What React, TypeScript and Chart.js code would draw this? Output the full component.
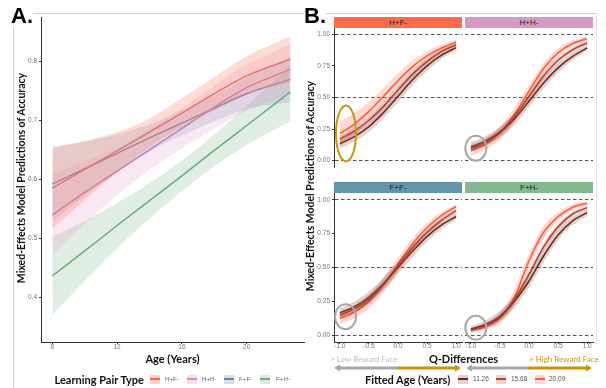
import React, { useEffect, useRef } from 'react';
import { Chart, registerables } from 'chart.js';

Chart.register(...registerables);

// ---------------- Panel A data ----------------
const AGES = [8, 10, 12, 14, 16, 18, 20, 22.7];
const A_X_TICKS = [8, 12, 16, 20];
const A_Y_TICKS = [0.4, 0.5, 0.6, 0.7, 0.8];
const PAIR_TYPES = ['H+F-', 'H+H-', 'F+F-', 'F+H-'];

const HF_FIT = [0.585, 0.617, 0.648, 0.68, 0.712, 0.745, 0.775, 0.803];
const HF_LO = [0.517, 0.565, 0.612, 0.655, 0.688, 0.717, 0.742, 0.764];
const HF_HI = [0.653, 0.665, 0.68, 0.703, 0.737, 0.773, 0.808, 0.842];

const HH_FIT = [0.54, 0.578, 0.614, 0.65, 0.686, 0.722, 0.755, 0.786];
const HH_LO = [0.472, 0.525, 0.574, 0.616, 0.652, 0.686, 0.716, 0.744];
const HH_HI = [0.608, 0.63, 0.654, 0.684, 0.72, 0.758, 0.794, 0.828];

const FF_FIT = [0.592, 0.618, 0.644, 0.67, 0.695, 0.72, 0.745, 0.769];
const FF_LO = [0.529, 0.572, 0.612, 0.647, 0.674, 0.698, 0.719, 0.73];
const FF_HI = [0.655, 0.664, 0.676, 0.693, 0.716, 0.742, 0.771, 0.808];

const FH_FIT = [0.437, 0.479, 0.522, 0.564, 0.606, 0.649, 0.691, 0.748];
const FH_LO = [0.371, 0.428, 0.484, 0.534, 0.58, 0.622, 0.658, 0.698];
const FH_HI = [0.503, 0.53, 0.56, 0.594, 0.632, 0.676, 0.724, 0.792];

// ---------------- Panel B data ----------------
const Q_DIFF = [-1, -0.75, -0.5, -0.25, 0, 0.25, 0.5, 0.75, 1];
const B_X_TICKS = [-1, -0.5, 0, 0.5, 1];
const B_Y_TICKS = [0, 0.25, 0.5, 0.75, 1];
const B_HLINES = [0, 0.5, 1];
const FITTED_AGES = ['11.26', '15.68', '20.09'];

// H+F-
const HF_11_FIT = [0.133, 0.19, 0.27, 0.38, 0.51, 0.64, 0.75, 0.835, 0.895];
const HF_11_LO = [0.098, 0.152, 0.228, 0.335, 0.464, 0.596, 0.712, 0.805, 0.871];
const HF_11_HI = [0.168, 0.228, 0.312, 0.425, 0.556, 0.684, 0.788, 0.865, 0.919];
const HF_15_FIT = [0.172, 0.235, 0.32, 0.43, 0.56, 0.685, 0.785, 0.865, 0.918];
const HF_15_LO = [0.147, 0.208, 0.29, 0.398, 0.528, 0.655, 0.759, 0.845, 0.902];
const HF_15_HI = [0.197, 0.262, 0.35, 0.462, 0.592, 0.715, 0.811, 0.885, 0.934];
const HF_20_FIT = [0.214, 0.29, 0.39, 0.51, 0.635, 0.745, 0.83, 0.892, 0.938];
const HF_20_LO = [0.119, 0.205, 0.315, 0.445, 0.58, 0.7, 0.793, 0.864, 0.918];
const HF_20_HI = [0.309, 0.375, 0.465, 0.575, 0.69, 0.79, 0.867, 0.92, 0.958];

// H+H-
const HH_11_FIT = [0.108, 0.155, 0.225, 0.33, 0.47, 0.615, 0.735, 0.825, 0.893];
const HH_11_LO = [0.073, 0.117, 0.183, 0.285, 0.424, 0.571, 0.697, 0.795, 0.869];
const HH_11_HI = [0.143, 0.193, 0.267, 0.375, 0.516, 0.659, 0.773, 0.855, 0.917];
const HH_15_FIT = [0.095, 0.145, 0.225, 0.345, 0.51, 0.67, 0.795, 0.878, 0.932];
const HH_15_LO = [0.07, 0.118, 0.195, 0.313, 0.478, 0.64, 0.769, 0.858, 0.916];
const HH_15_HI = [0.12, 0.172, 0.255, 0.377, 0.542, 0.7, 0.821, 0.898, 0.948];
const HH_20_FIT = [0.08, 0.13, 0.22, 0.365, 0.55, 0.73, 0.855, 0.928, 0.965];
const HH_20_LO = [0.04, 0.085, 0.17, 0.31, 0.5, 0.685, 0.82, 0.903, 0.947];
const HH_20_HI = [0.12, 0.175, 0.27, 0.42, 0.6, 0.775, 0.89, 0.953, 0.983];

// F+F-
const FF_11_FIT = [0.165, 0.21, 0.28, 0.38, 0.5, 0.62, 0.73, 0.815, 0.877];
const FF_11_LO = [0.13, 0.172, 0.238, 0.335, 0.454, 0.576, 0.692, 0.785, 0.853];
const FF_11_HI = [0.2, 0.248, 0.322, 0.425, 0.546, 0.664, 0.768, 0.845, 0.901];
const FF_15_FIT = [0.148, 0.195, 0.265, 0.375, 0.51, 0.645, 0.76, 0.85, 0.92];
const FF_15_LO = [0.123, 0.168, 0.235, 0.343, 0.478, 0.615, 0.734, 0.83, 0.904];
const FF_15_HI = [0.173, 0.222, 0.295, 0.407, 0.542, 0.675, 0.786, 0.87, 0.936];
const FF_20_FIT = [0.125, 0.17, 0.25, 0.37, 0.525, 0.675, 0.795, 0.885, 0.95];
const FF_20_LO = [0.085, 0.125, 0.2, 0.315, 0.475, 0.63, 0.76, 0.86, 0.932];
const FF_20_HI = [0.165, 0.215, 0.3, 0.425, 0.575, 0.72, 0.83, 0.91, 0.968];

// F+H-
const FH_11_FIT = [0.045, 0.08, 0.14, 0.25, 0.4, 0.585, 0.74, 0.845, 0.905];
const FH_11_LO = [0.025, 0.052, 0.102, 0.205, 0.354, 0.541, 0.702, 0.815, 0.881];
const FH_11_HI = [0.065, 0.108, 0.178, 0.295, 0.446, 0.629, 0.778, 0.875, 0.929];
const FH_15_FIT = [0.04, 0.07, 0.13, 0.26, 0.45, 0.65, 0.8, 0.895, 0.942];
const FH_15_LO = [0.025, 0.05, 0.102, 0.228, 0.418, 0.62, 0.774, 0.875, 0.926];
const FH_15_HI = [0.055, 0.09, 0.158, 0.292, 0.482, 0.68, 0.826, 0.915, 0.958];
const FH_20_FIT = [0.035, 0.065, 0.13, 0.28, 0.55, 0.76, 0.875, 0.945, 0.975];
const FH_20_LO = [0.017, 0.04, 0.09, 0.225, 0.495, 0.715, 0.843, 0.923, 0.96];
const FH_20_HI = [0.053, 0.09, 0.17, 0.335, 0.605, 0.805, 0.907, 0.967, 0.99];

// highlighted region centres (data units) per facet
const RING_X = [-0.894, -0.914, -0.902, -0.914];
const RING_Y = [0.216, 0.099, 0.137, 0.056];

// ---------------- styles ----------------
const TITLE_FONT = 'Lato, "Open Sans", sans-serif';
const TICK_FONT = '"Liberation Sans", Arial, sans-serif';
const PAIR_LINE = ['#E3644D', '#BC7CB0', '#687E99', '#68A77C'];
const PAIR_BAND = ['rgba(255,125,100,0.28)', 'rgba(222,150,200,0.22)', 'rgba(115,155,185,0.24)', 'rgba(120,180,140,0.24)'];
const PAIR_KEY_FILL = ['#FDD3CA', '#F6DCEE', '#D5E0EA', '#D8EBDD'];
const PAIR_KEY_LINE = ['#FF6347', '#D58BC0', '#5A86A4', '#6DB07F'];
const STRIP_COLORS = ['#FF6A4B', '#D699C5', '#6593A9', '#83B891'];
const AGE_LINE = ['#6B2A1E', '#B5452F', '#FF5A3C'];
const AGE_BAND = ['rgba(110,45,30,0.22)', 'rgba(181,69,47,0.2)', 'rgba(255,99,71,0.25)'];
const AGE_KEY_FILL = ['#E2D0CC', '#F0D2CB', '#FFD6CC'];
const GOLD = '#C8950A';
const GREY = '#A8A8A8';

const pts = (xs: number[], ys: number[]) => xs.map((x, i) => ({ x, y: ys[i] }));

function bandSets(xs: number[], lo: number[], hi: number[], color: string) {
  return [
    { data: pts(xs, lo), borderWidth: 0, borderColor: 'rgba(0,0,0,0)', pointRadius: 0, fill: false, cubicInterpolationMode: 'monotone' },
    { data: pts(xs, hi), borderWidth: 0, borderColor: 'rgba(0,0,0,0)', pointRadius: 0, fill: '-1', backgroundColor: color, cubicInterpolationMode: 'monotone' },
  ];
}
function lineSet(xs: number[], ys: number[], color: string, width: number) {
  return { data: pts(xs, ys), borderColor: color, borderWidth: width, pointRadius: 0, fill: false, cubicInterpolationMode: 'monotone' };
}
const fixedTicks = (values: number[]) => (scale: any) => {
  scale.ticks = values.map((v) => ({ value: v }));
};

function makeAConfig(): any {
  const groups = [
    [HF_FIT, HF_LO, HF_HI],
    [HH_FIT, HH_LO, HH_HI],
    [FF_FIT, FF_LO, FF_HI],
    [FH_FIT, FH_LO, FH_HI],
  ];
  const datasets: any[] = [];
  groups.forEach((g, i) => datasets.push(...bandSets(AGES, g[1], g[2], PAIR_BAND[i])));
  groups.forEach((g, i) => datasets.push(lineSet(AGES, g[0], PAIR_LINE[i], 1.5)));
  return {
    type: 'line',
    data: { datasets },
    options: {
      responsive: false,
      animation: false,
      events: [],
      plugins: { legend: { display: false }, tooltip: { enabled: false } },
      layout: { padding: { left: 0, top: 17, right: 6, bottom: 34 } },
      scales: {
        x: {
          type: 'linear', min: 7.3, max: 23.54,
          afterBuildTicks: fixedTicks(A_X_TICKS),
          afterFit: (s: any) => { s.height = 12; },
          grid: { display: true, drawOnChartArea: false, drawTicks: true, tickLength: 2, tickColor: '#333' },
          border: { display: true, color: '#333', width: 1 },
          ticks: { color: '#777', font: { size: 6.5, family: TICK_FONT, lineHeight: 1 }, padding: 0, maxRotation: 0, autoSkip: false },
        },
        y: {
          type: 'linear', min: 0.3251, max: 0.8744,
          afterBuildTicks: fixedTicks(A_Y_TICKS),
          afterFit: (s: any) => { s.width = 41; },
          grid: { display: true, drawOnChartArea: false, drawTicks: true, tickLength: 2, tickColor: '#333' },
          border: { display: true, color: '#333', width: 1 },
          ticks: { color: '#777', font: { size: 6.5, family: TICK_FONT }, padding: 2, callback: (v: any) => Number(v).toFixed(1) },
        },
      },
    },
  };
}

function ringPlugin(cx: number, cy: number, rx: number, ry: number, color: string) {
  return {
    id: 'ring',
    afterDatasetsDraw(chart: any) {
      const { ctx, scales } = chart;
      ctx.save();
      ctx.beginPath();
      ctx.ellipse(scales.x.getPixelForValue(cx), scales.y.getPixelForValue(cy), rx, ry, 0, 0, Math.PI * 2);
      ctx.strokeStyle = color;
      ctx.lineWidth = 2;
      ctx.stroke();
      ctx.restore();
    },
  };
}

function makeBConfig(curves: number[][][], showY: boolean, showX: boolean, ring: any, padLeft: number, padRight: number): any {
  const datasets: any[] = [];
  curves.forEach((c, i) => datasets.push(...bandSets(Q_DIFF, c[1], c[2], AGE_BAND[i])));
  curves.forEach((c, i) => datasets.push(lineSet(Q_DIFF, c[0], AGE_LINE[i], 1.6)));
  return {
    type: 'line',
    data: { datasets },
    plugins: [ringPlugin(ring.x, ring.y, ring.rx, ring.ry, ring.color)],
    options: {
      responsive: false,
      animation: false,
      events: [],
      plugins: { legend: { display: false }, tooltip: { enabled: false } },
      layout: { padding: { left: padLeft, top: 8, right: padRight, bottom: 3 } },
      scales: {
        x: {
          type: 'linear', min: -1.1, max: 1.1,
          display: showX,
          afterBuildTicks: fixedTicks(B_X_TICKS),
          afterFit: (s: any) => { s.height = 10; },
          grid: { display: true, drawOnChartArea: false, drawTicks: true, tickLength: 2, tickColor: '#333' },
          border: { display: true, color: '#333', width: 1 },
          ticks: { color: '#777', font: { size: 6.5, family: TICK_FONT, lineHeight: 1 }, padding: -1, maxRotation: 0, autoSkip: false, callback: (v: any) => Number(v).toFixed(1) },
        },
        y: {
          type: 'linear', min: -0.05, max: 1.05,
          afterBuildTicks: fixedTicks(B_Y_TICKS),
          afterFit: (s: any) => { s.width = showY ? 34 : 0; },
          grid: {
            display: true, drawOnChartArea: true, drawTicks: showY, tickLength: 2, tickColor: '#333', lineWidth: 1,
            color: (c: any) => (c.tick && B_HLINES.includes(c.tick.value) ? '#555' : 'rgba(0,0,0,0)'),
          },
          border: { display: showY, color: '#333', width: 1, dash: [3.5, 2.5] },
          ticks: { display: showY, color: '#777', font: { size: 6.5, family: TICK_FONT }, padding: 2, callback: (v: any) => Number(v).toFixed(2) },
        },
      },
    },
  };
}

function ChartCanvas({ left, top, width, height, make }: { left: number; top: number; width: number; height: number; make: () => any }) {
  const ref = useRef<HTMLCanvasElement | null>(null);
  useEffect(() => {
    if (!ref.current) return;
    const chart = new Chart(ref.current, make());
    return () => chart.destroy();
  }, []);
  return (
    <canvas
      ref={ref}
      width={width}
      height={height}
      style={{ position: 'absolute', left, top, width, height, display: 'block' }}
    />
  );
}

function Txt({ x, y, children, size, weight = 400, color = '#111', anchor = 'start', rotate = 0, family = TITLE_FONT, bg }: any) {
  const tx = anchor === 'middle' ? '-50%' : anchor === 'end' ? '-100%' : '0%';
  return (
    <div
      style={{
        position: 'absolute', left: x, top: y, whiteSpace: 'nowrap', fontFamily: family, fontSize: size,
        fontWeight: weight, color, lineHeight: 1, background: bg,
        transform: `translate(${tx}, -50%) rotate(${rotate}deg)`,
      }}
    >
      {children}
    </div>
  );
}

function Key({ x, y, fill, line }: any) {
  return (
    <div style={{ position: 'absolute', left: x, top: y - 4.5, width: 10, height: 9, background: fill }}>
      <div style={{ position: 'absolute', left: 0, right: 0, top: 3.5, height: 2, background: line }} />
    </div>
  );
}

function Strip({ x, y, w, color, label }: any) {
  return (
    <div
      style={{
        position: 'absolute', left: x, top: y, width: w, height: 11, background: color, color: '#222',
        fontFamily: TICK_FONT, fontSize: 8, lineHeight: '11px', textAlign: 'center',
      }}
    >
      {label}
    </div>
  );
}

function Arrow({ x0, xm, x1, y }: any) {
  return (
    <g>
      <polygon points={`${x0},${y} ${x0 + 6},${y - 3.5} ${x0 + 6},${y + 3.5}`} fill={GREY} />
      <rect x={x0 + 5} y={y - 1.5} width={xm - x0 - 5} height={3} fill={GREY} />
      <rect x={xm} y={y - 1.5} width={x1 - xm - 5} height={3} fill={GOLD} />
      <polygon points={`${x1},${y} ${x1 - 6},${y - 3.5} ${x1 - 6},${y + 3.5}`} fill={GOLD} />
    </g>
  );
}

export default function App() {
  const facets = [
    { curves: [[HF_11_FIT, HF_11_LO, HF_11_HI], [HF_15_FIT, HF_15_LO, HF_15_HI], [HF_20_FIT, HF_20_LO, HF_20_HI]] },
    { curves: [[HH_11_FIT, HH_11_LO, HH_11_HI], [HH_15_FIT, HH_15_LO, HH_15_HI], [HH_20_FIT, HH_20_LO, HH_20_HI]] },
    { curves: [[FF_11_FIT, FF_11_LO, FF_11_HI], [FF_15_FIT, FF_15_LO, FF_15_HI], [FF_20_FIT, FF_20_LO, FF_20_HI]] },
    { curves: [[FH_11_FIT, FH_11_LO, FH_11_HI], [FH_15_FIT, FH_15_LO, FH_15_HI], [FH_20_FIT, FH_20_LO, FH_20_HI]] },
  ];
  const rings = [
    { x: RING_X[0], y: RING_Y[0], rx: 10, ry: 28, color: GOLD },
    { x: RING_X[1], y: RING_Y[1], rx: 10.5, ry: 12.5, color: GREY },
    { x: RING_X[2], y: RING_Y[2], rx: 10.5, ry: 12.5, color: GREY },
    { x: RING_X[3], y: RING_Y[3], rx: 10.5, ry: 12, color: GREY },
  ];
  const boxes = [
    { left: 300, top: 20, width: 164, height: 160, showY: true, showX: false, pl: 0, pr: 2 },
    { left: 462, top: 20, width: 134, height: 160, showY: false, showX: false, pl: 3, pr: 3 },
    { left: 300, top: 185, width: 164, height: 170, showY: true, showX: true, pl: 0, pr: 2 },
    { left: 462, top: 185, width: 134, height: 170, showY: false, showX: true, pl: 3, pr: 3 },
  ];
  const stripPos = [
    { x: 334, y: 17 },
    { x: 465, y: 17 },
    { x: 334, y: 182 },
    { x: 465, y: 182 },
  ];
  const pairKeyX = [150, 187, 224, 260];
  const pairLabelX = [165, 202, 239, 276];
  const ageKeyX = [458, 496, 535];
  const ageLabelX = [473, 511, 549];

  return (
    <div style={{ position: 'absolute', left: 0, top: 0, width: 606, height: 388, background: '#fff', overflow: 'hidden' }}>
      {/* frame */}
      <div style={{ position: 'absolute', left: 13, top: 13, width: 584, height: 1, background: '#CFCFCF' }} />
      <div style={{ position: 'absolute', left: 13, top: 13, width: 1, height: 375, background: '#CFCFCF' }} />
      <div style={{ position: 'absolute', left: 596, top: 13, width: 1, height: 332, background: '#E2E2E2' }} />

      {/* Panel A */}
      <ChartCanvas left={0} top={0} width={310} height={388} make={makeAConfig} />
      <Txt x={11} y={16} size={22} weight={700} family={TICK_FONT} color="#000" bg="#fff">A.</Txt>
      <Txt x={21} y={178} size={10.5} weight={700} anchor="middle" rotate={-90}>Mixed-Effects Model Predictions of Accuracy</Txt>
      <Txt x={172.5} y={358} size={11} weight={700} anchor="middle">Age (Years)</Txt>
      <Txt x={54.5} y={379} size={11} weight={700}>Learning Pair Type</Txt>
      {PAIR_TYPES.map((p, i) => (
        <React.Fragment key={p}>
          <Key x={pairKeyX[i]} y={379} fill={PAIR_KEY_FILL[i]} line={PAIR_KEY_LINE[i]} />
          <Txt x={pairLabelX[i]} y={379} size={6.2} family={TICK_FONT} color="#666">{p}</Txt>
        </React.Fragment>
      ))}

      {/* Panel B */}
      {facets.map((f, i) => (
        <ChartCanvas
          key={'f' + i}
          left={boxes[i].left}
          top={boxes[i].top}
          width={boxes[i].width}
          height={boxes[i].height}
          make={() => makeBConfig(f.curves, boxes[i].showY, boxes[i].showX, rings[i], boxes[i].pl, boxes[i].pr)}
        />
      ))}
      {PAIR_TYPES.map((p, i) => (
        <Strip key={'s' + p} x={stripPos[i].x} y={stripPos[i].y} w={128} color={STRIP_COLORS[i]} label={p} />
      ))}
      <Txt x={304} y={16} size={22} weight={700} family={TICK_FONT} color="#000" bg="#fff">B.</Txt>
      <Txt x={310} y={186} size={10.5} weight={700} anchor="middle" rotate={-90}>Mixed-Effects Model Predictions of Accuracy</Txt>
      <Txt x={463.5} y={358} size={11} weight={700} anchor="middle">Q-Differences</Txt>
      <Txt x={330} y={358.5} size={8} color="#BDBDBD">&gt; Low Reward Face</Txt>
      <Txt x={529} y={358.5} size={8} color={GOLD}>&gt; High Reward Face</Txt>
      <svg style={{ position: 'absolute', left: 0, top: 0 }} width={606} height={388}>
        <Arrow x0={334} xm={398} x1={461} y={368} />
        <Arrow x0={466} xm={528} x1={592} y={368} />
      </svg>
      <Txt x={365} y={379} size={11} weight={700}>Fitted Age (Years)</Txt>
      {FITTED_AGES.map((a, i) => (
        <React.Fragment key={a}>
          <Key x={ageKeyX[i]} y={379} fill={AGE_KEY_FILL[i]} line={AGE_LINE[i]} />
          <Txt x={ageLabelX[i]} y={379} size={6.5} family={TICK_FONT} color="#555">{a}</Txt>
        </React.Fragment>
      ))}
    </div>
  );
}
